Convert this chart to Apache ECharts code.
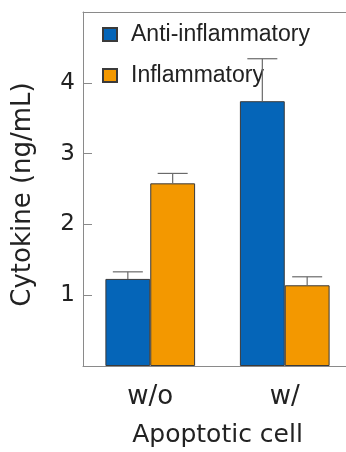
<!DOCTYPE html>
<html><head><meta charset="utf-8">
<script src="https://cdn.jsdelivr.net/npm/echarts@6/dist/echarts.min.js"></script>
<style>html,body{margin:0;padding:0;background:#fff}#c{width:346px;height:452px}</style>
</head><body><div id="c"></div>
<script>
var categories = ['w/o', 'w/'];
var seriesNames = ['Anti-inflammatory', 'Inflammatory'];
var antiValues = [1.23, 3.74];
var antiErrors = [0.10, 0.60];
var inflValues = [2.58, 1.14];
var inflErrors = [0.14, 0.12];
var yTicks = [1, 2, 3, 4];

var FONT = 'DejaVu Sans';
var LFONT = 'Liberation Sans';
var colors = ['#0565B8', '#F39800'];
var AXIS = '#8a8a8a';

function errData(vals, errs, s) {
  return vals.map(function (v, i) { return [i, v, v + errs[i], s]; });
}

var chart = echarts.init(document.getElementById('c'), null, {renderer: 'canvas'});
chart.setOption({
  animation: false,
  textStyle: {fontFamily: FONT},
  grid: {left: 83, top: 12, width: 269, height: 354, containLabel: false, outerBoundsMode: 'none'},
  legend: {
    orient: 'vertical', left: 102, top: 23, padding: 0, itemWidth: 14, itemHeight: 13, itemGap: 18,
    icon: 'rect',
    textStyle: {fontFamily: LFONT, fontSize: 23, color: '#222', padding: [0, 0, 0, 9]},
    data: seriesNames
  },
  xAxis: [{
    type: 'category', data: categories,
    name: 'Apoptotic cell', nameLocation: 'middle', nameGap: 57,
    nameTextStyle: {fontFamily: FONT, fontSize: 25, color: '#222'},
    axisLine: {lineStyle: {color: AXIS, width: 1}},
    axisTick: {inside: true, length: 6, lineStyle: {color: AXIS}},
    axisLabel: {fontFamily: FONT, fontSize: 26, color: '#222', margin: 18}
  }, {
    type: 'category', data: categories, position: 'top',
    axisLine: {show: true, lineStyle: {color: AXIS, width: 1}},
    axisTick: {show: false}, axisLabel: {show: false}
  }],
  yAxis: {
    type: 'value', min: 0, max: 5, interval: 1,
    name: 'Cytokine (ng/mL)', nameLocation: 'middle', nameGap: 47,
    nameTextStyle: {fontFamily: FONT, fontSize: 26, color: '#222', padding: [0, 11, 0, 0]},
    axisLine: {show: true, lineStyle: {color: AXIS, width: 1}},
    axisTick: {show: true, inside: true, length: 9, lineStyle: {color: AXIS}},
    splitLine: {show: false},
    axisLabel: {fontFamily: FONT, fontSize: 23, color: '#222', margin: 8,
      formatter: function (v) { return yTicks.indexOf(v) >= 0 ? String(v) : ''; }}
  },
  series: [
    {name: seriesNames[0], type: 'bar', data: antiValues, barGap: '0%', barCategoryGap: '33.3%',
     itemStyle: {color: colors[0], borderColor: '#3a3a3a', borderWidth: 1}},
    {name: seriesNames[1], type: 'bar', data: inflValues, barGap: '0%', barCategoryGap: '33.3%',
     itemStyle: {color: colors[1], borderColor: '#3a3a3a', borderWidth: 1}},
    {type: 'custom', z: 5, silent: true,
     data: errData(antiValues, antiErrors, 0).concat(errData(inflValues, inflErrors, 1)),
     renderItem: function (params, api) {
       var i = api.value(0), lo = api.value(1), hi = api.value(2), s = api.value(3);
       var band = api.size([1, 0])[0];
       var off = (s === 0 ? -1 : 1) * band / 6;
       var p0 = api.coord([i, lo]), p1 = api.coord([i, hi]);
       var x = p0[0] + off;
       var style = {stroke: '#6a6a6a', lineWidth: 1.2};
       return {type: 'group', children: [
         {type: 'line', shape: {x1: x, y1: p0[1], x2: x, y2: p1[1]}, style: style},
         {type: 'line', shape: {x1: x - 15, y1: p1[1], x2: x + 15, y2: p1[1]}, style: style}
       ]};
     }}
  ]
});
</script></body></html>
